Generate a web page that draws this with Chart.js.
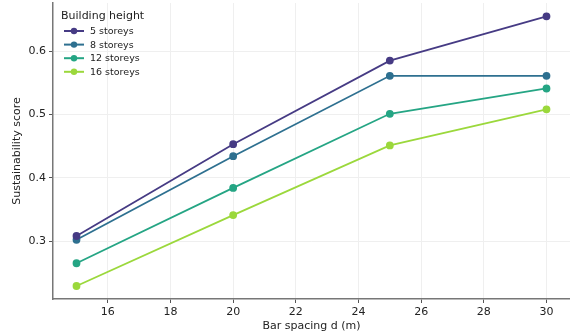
<!DOCTYPE html>
<html>
<head>
<meta charset="utf-8">
<script src="https://cdn.jsdelivr.net/npm/chart.js@4"></script>
<style>
  html, body { margin: 0; padding: 0; background: #fff; }
  #wrap { width: 570px; height: 335px; }
</style>
</head>
<body>
<div id="wrap"><canvas id="chart" width="570" height="335"></canvas></div>
<script>
// データ
const spacing = [15, 20, 25, 30];
const seriesNames = ["5 storeys", "8 storeys", "12 storeys", "16 storeys"];
const storeys5 = [0.308, 0.453, 0.585, 0.655];
const storeys8 = [0.302, 0.434, 0.561, 0.561];
const storeys12 = [0.265, 0.384, 0.501, 0.541];
const storeys16 = [0.229, 0.341, 0.451, 0.508];
const xTicks = [16, 18, 20, 22, 24, 26, 28, 30];
const yTicks = [0.3, 0.4, 0.5, 0.6];

const colors = ["#463b84", "#2e7090", "#25a584", "#9bd83c"];
const allValues = [storeys5, storeys8, storeys12, storeys16];

const font = "'DejaVu Sans', sans-serif";
Chart.defaults.font.family = font;
Chart.defaults.color = "#222";

// 凡例 (グラフ内の左上に描画)
const insideLegend = {
    id: "insideLegend",
    afterDraw(chart) {
        const ctx = chart.ctx;
        const left = chart.chartArea.left + 8;
        ctx.save();
        ctx.textBaseline = "middle";
        ctx.fillStyle = "#222";
        ctx.font = "11px " + font;
        ctx.fillText("Building height", left, 16.5);
        ctx.font = "9.5px " + font;
        chart.data.datasets.forEach((ds, i) => {
            const y = 31 + i * 13.6;
            ctx.strokeStyle = colors[i];
            ctx.lineWidth = 2;
            ctx.beginPath();
            ctx.moveTo(left + 3, y);
            ctx.lineTo(left + 23, y);
            ctx.stroke();
            ctx.fillStyle = colors[i];
            ctx.beginPath();
            ctx.arc(left + 13, y, 3.2, 0, Math.PI * 2);
            ctx.fill();
            ctx.fillStyle = "#222";
            ctx.fillText(ds.label, left + 29, y + 0.5);
        });
        ctx.restore();
    }
};

new Chart(document.getElementById("chart"), {
    type: "line",
    data: {
        datasets: allValues.map((vals, i) => ({
            label: seriesNames[i],
            data: spacing.map((x, j) => ({ x: x, y: vals[j] })),
            borderColor: colors[i],
            backgroundColor: colors[i],
            borderWidth: 1.8,
            pointRadius: 3,
            pointHoverRadius: 3,
            tension: 0
        }))
    },
    options: {
        responsive: false,
        animation: false,
        layout: { autoPadding: false, padding: { top: 3, right: 0, left: 11, bottom: 0 } },
        plugins: {
            tooltip: { enabled: false },
            legend: { display: false }
        },
        scales: {
            x: {
                type: "linear",
                min: 14.25,
                max: 30.75,
                afterBuildTicks: s => { s.ticks = xTicks.map(v => ({ value: v })); },
                afterFit: s => { s.height = 36; s.paddingLeft = 0; s.paddingRight = 0; },
                border: { color: "#777", width: 1.5 },
                grid: { color: "#efefef", lineWidth: 1, tickColor: "#555", tickLength: 4 },
                ticks: { font: { size: 11 }, color: "#222", padding: 3, maxRotation: 0 },
                title: { display: true, text: "Bar spacing d (m)", font: { size: 11 }, color: "#222", padding: { top: 0, bottom: 2 } }
            },
            y: {
                min: 0.2085,
                max: 0.676,
                afterBuildTicks: s => { s.ticks = yTicks.map(v => ({ value: v })); },
                afterFit: s => { s.width = 42; s.paddingTop = 0; s.paddingBottom = 0; },
                border: { color: "#777", width: 1.5 },
                grid: { color: "#efefef", lineWidth: 1, tickColor: "#555", tickLength: 4 },
                ticks: { font: { size: 11 }, color: "#222", padding: 3, callback: v => v.toFixed(1) },
                title: { display: true, text: "Sustainability score", font: { size: 11 }, color: "#222", padding: { top: 0, bottom: 4 } }
            }
        }
    },
    plugins: [insideLegend]
});
</script>
</body>
</html>
